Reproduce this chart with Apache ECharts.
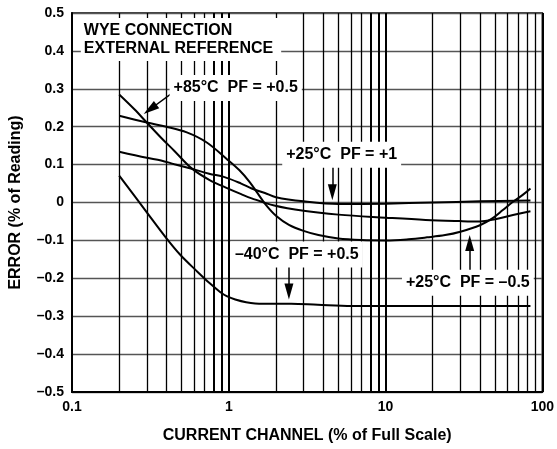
<!DOCTYPE html>
<html><head><meta charset="utf-8">
<script src="https://cdn.jsdelivr.net/npm/echarts@6/dist/echarts.min.js"></script>
<style>html,body{margin:0;padding:0;background:#fff}#c{width:557px;height:449px}</style>
</head><body><div id="c"></div>
<script>
// ---- data ----
const xTickLabels = ['0.1', '1', '10', '100'];
const yTickValues = [-0.5, -0.4, -0.3, -0.2, -0.1, 0, 0.1, 0.2, 0.3, 0.4, 0.5];
const minorGridX = [0.2, 0.3, 0.4, 0.5, 0.6, 0.7, 2, 3, 4, 5, 6, 7, 20, 30, 40, 50, 60, 70, 80, 90];
const heavyGridX = [0.8, 0.9, 8, 9];

// +25°C PF = +1
const pf1X = [0.2, 0.3, 0.37, 0.45, 0.58, 0.75, 0.94, 1.2, 1.4, 1.7, 2.0, 3.0, 5.0, 10, 20, 40, 84];
const pf1Y = [0.134, 0.118, 0.111, 0.101, 0.089, 0.076, 0.067, 0.050, 0.037, 0.025, 0.014, 0.003, -0.004, -0.003, 0.0, 0.003, 0.005];

// +85°C PF = +0.5
const t85X = [0.2, 0.25, 0.3, 0.37, 0.45, 0.58, 0.75, 1.0, 1.2, 1.4, 1.95, 3.0, 5.0, 10, 18, 30, 40, 50, 65, 84];
const t85Y = [0.285, 0.246, 0.211, 0.171, 0.136, 0.090, 0.060, 0.036, 0.022, 0.011, -0.008, -0.022, -0.032, -0.040, -0.046, -0.049, -0.050, -0.044, -0.033, -0.023];

// +25°C PF = -0.5
const pfm05X = [0.2, 0.3, 0.4, 0.54, 0.72, 0.97, 1.17, 1.36, 1.53, 1.73, 2.0, 2.42, 3.0, 3.73, 5.0, 7.0, 10, 14, 18.4, 24, 30, 40, 48, 56, 65, 75, 84];
const pfm05Y = [0.229, 0.211, 0.200, 0.185, 0.159, 0.115, 0.085, 0.054, 0.024, -0.007, -0.035, -0.059, -0.075, -0.086, -0.095, -0.099, -0.100, -0.097, -0.092, -0.086, -0.077, -0.060, -0.042, -0.020, 0.002, 0.020, 0.037];

// -40°C PF = +0.5
const tm40X = [0.2, 0.3, 0.396, 0.49, 0.625, 0.76, 0.88, 0.97, 1.1, 1.29, 1.64, 2.5, 3.7, 6.1, 19, 84];
const tm40Y = [0.071, -0.026, -0.092, -0.138, -0.181, -0.214, -0.236, -0.247, -0.256, -0.263, -0.267, -0.267, -0.270, -0.273, -0.273, -0.273];

// annotations (data coordinates)
const labelTexts = ['WYE CONNECTION\nEXTERNAL REFERENCE', '+85°C  PF = +0.5', '+25°C  PF = +1', '–40°C  PF = +0.5', '+25°C  PF = –0.5'];
const labelAt = [[0.113, 0.43], [1.107, 0.302], [5.25, 0.126], [2.716, -0.137], [33.5, -0.212]];
const arrowFrom = [[0.439, 0.29], [4.576, 0.11], [2.419, -0.165], [34.4, -0.188]];
const arrowTo = [[0.315, 0.246], [4.576, 0.027], [2.419, -0.235], [34.4, -0.107]];

// ---- chart ----
const FONT = '"Liberation Sans", Arial, Helvetica, sans-serif';
const zip = (xs, ys) => xs.map((x, i) => [x, ys[i]]);
const fmtY = v => {
  const r = Math.round(v * 10) / 10;
  if (Math.abs(r) < 1e-9) return '0';
  return (r < 0 ? '–' : '') + Math.abs(r).toFixed(1);
};

const curve = (name, xs, ys) => ({
  name, type: 'line', data: zip(xs, ys), showSymbol: false, smooth: 0.35,
  lineStyle: { color: '#000', width: 2 }, itemStyle: { color: '#000' }, z: 3, silent: true
});

const chart = echarts.init(document.getElementById('c'), null, { renderer: 'canvas' });
chart.setOption({
  animation: false,
  backgroundColor: '#fff',
  grid: { left: 70, right: 10, top: 13, bottom: 53, show: true, borderColor: '#000', borderWidth: 1.5, backgroundColor: 'transparent' },
  xAxis: {
    type: 'log', logBase: 10, min: 0.1, max: 100,
    name: 'CURRENT CHANNEL (% of Full Scale)', nameLocation: 'middle', nameGap: 36,
    nameTextStyle: { fontFamily: FONT, fontWeight: 'bold', fontSize: 16, color: '#000' },
    axisLine: { show: true, onZero: false, lineStyle: { color: '#000', width: 2 } },
    axisTick: { show: false },
    axisLabel: { fontFamily: FONT, fontWeight: 'bold', fontSize: 14, color: '#000', margin: 8,
      formatter: v => { const s = String(+v.toPrecision(3)); return xTickLabels.includes(s) ? s : ''; } },
    splitLine: { show: true, lineStyle: { color: '#000', width: 2 } }
  },
  yAxis: {
    type: 'value', min: -0.5, max: 0.5, interval: 0.1,
    name: 'ERROR (% of Reading)', nameLocation: 'middle', nameGap: 48,
    nameTextStyle: { fontFamily: FONT, fontWeight: 'bold', fontSize: 16, color: '#000' },
    axisLine: { show: true, onZero: false, lineStyle: { color: '#000', width: 2 } },
    axisTick: { show: false },
    axisLabel: { fontFamily: FONT, fontWeight: 'bold', fontSize: 14, color: '#000', margin: 8,
      formatter: v => yTickValues.some(t => Math.abs(t - v) < 1e-9) ? fmtY(v) : '' },
    splitLine: { show: true, lineStyle: { color: '#555', width: 1.3 } }
  },
  series: [
    {
      type: 'line', data: [], z: 1, silent: true,
      markLine: {
        silent: true, animation: false, symbol: 'none', label: { show: false },
        lineStyle: { color: '#000', width: 1.3, type: 'solid' },
        emphasis: { disabled: true },
        data: minorGridX.map(v => ({ xAxis: v }))
          .concat(heavyGridX.map(v => ({ xAxis: v, lineStyle: { width: 2, color: '#000', type: 'solid' } })))
      }
    },
    curve('+25°C PF = +1', pf1X, pf1Y),
    curve('+85°C PF = +0.5', t85X, t85Y),
    curve('+25°C PF = –0.5', pfm05X, pfm05Y),
    curve('–40°C PF = +0.5', tm40X, tm40Y),
    {
      type: 'line', data: [], z: 5, silent: true,
      markPoint: {
        silent: true, animation: false, symbol: 'rect', symbolSize: 1,
        itemStyle: { color: 'rgba(0,0,0,0)' },
        data: labelTexts.map((t, i) => ({
          coord: labelAt[i], value: i,
          label: {
            show: true, formatter: t,
            position: i === 0 ? 'right' : 'inside', distance: 0,
            align: i === 0 ? 'left' : 'center', verticalAlign: 'middle',
            fontFamily: FONT, fontWeight: 'bold', fontSize: 16, color: '#000',
            lineHeight: i === 0 ? 17.5 : 18,
            backgroundColor: '#fff', padding: i === 0 ? [4, 8, 4, 3] : [4, 4, 4, 4]
          }
        }))
      },
      markLine: {
        silent: true, animation: false, label: { show: false },
        lineStyle: { color: '#000', width: 1.5, type: 'solid' },
        data: arrowFrom.map((f, i) => [
          { coord: f, symbol: 'none' },
          { coord: arrowTo[i], symbol: 'triangle', symbolSize: [9, 16] }
        ])
      }
    }
  ]
});
</script></body></html>
